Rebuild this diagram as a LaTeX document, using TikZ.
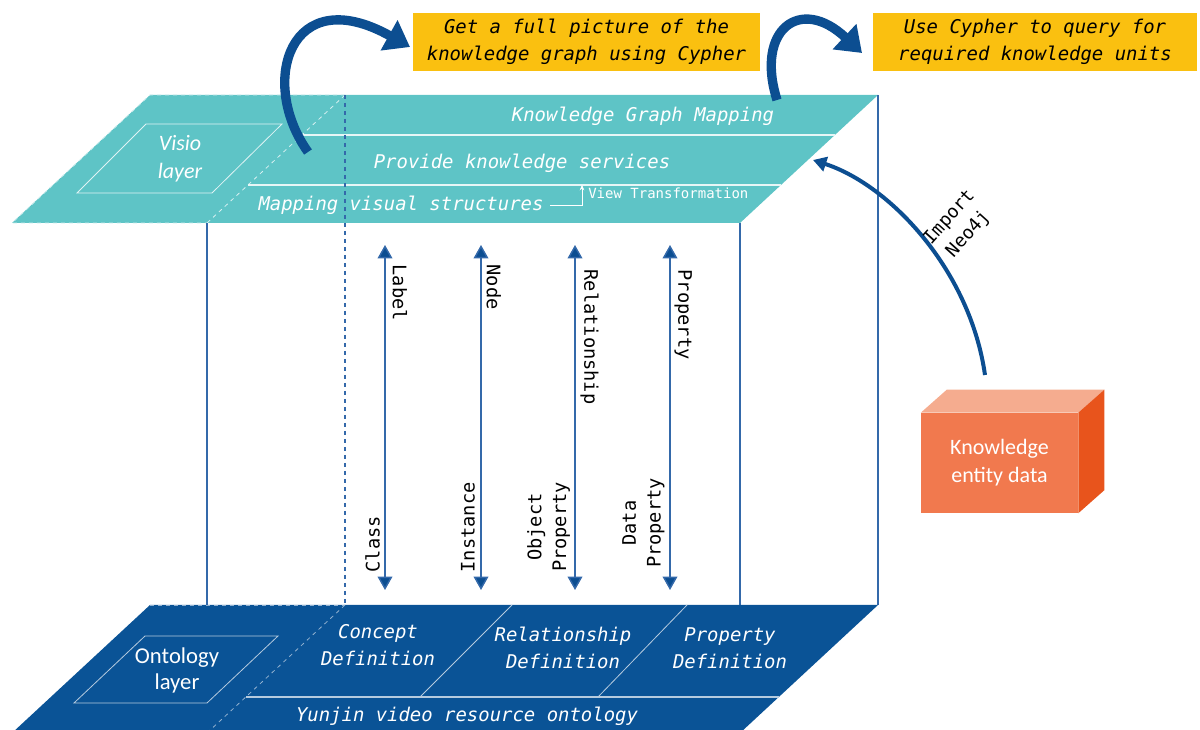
\documentclass[tikz,border=0pt]{standalone}
\usepackage{fontspec}
\setmainfont{DejaVu Sans}
\newfontfamily\mono{DejaVu Sans Mono}
\newfontfamily\calib{Carlito}
\usetikzlibrary{arrows.meta}

\definecolor{plateTeal}{RGB}{94,196,198}
\definecolor{plateBlue}{RGB}{10,83,150}
\definecolor{edgeBlue}{RGB}{52,105,170}
\definecolor{arcBlue}{RGB}{12,78,145}
\definecolor{labelGold}{RGB}{250,192,16}
\definecolor{boxFront}{RGB}{241,121,78}
\definecolor{boxTop}{RGB}{245,172,143}
\definecolor{boxSide}{RGB}{232,84,28}

\newcommand\platefont{\mono\itshape\fontsize{14.2}{20}\selectfont}
\newcommand\axisfont{\mono\fontsize{14}{18.5}\selectfont}

\tikzset{
  platetext/.style={text=white, font=\platefont, align=center, inner sep=0pt},
  layertext/.style={text=white, font=\calib\fontsize{16.5}{20}\selectfont, align=center, inner sep=0pt},
  goldbox/.style={fill=labelGold, text=black, font=\platefont, align=center,
                  inner sep=0pt, minimum height=43.5pt},
  thinlight/.style={line width=0.6pt},
  pillar/.style={draw=edgeBlue, line width=0.9pt},
  maparrow/.style={draw=edgeBlue, line width=1.1pt,
                   {Triangle[width=11pt,length=10pt,fill=arcBlue]}-{Triangle[width=11pt,length=10pt,fill=arcBlue]}},
  axislabel/.style={font=\axisfont, text=black, inner sep=1pt, align=center},
  bigarc/.style={draw=arcBlue, line width=7pt, -{Triangle[width=25pt,length=18pt]}},
  importarc/.style={draw=arcBlue, line width=3pt, -{Triangle[width=11pt,length=10pt]}},
}

\begin{document}
\begin{tikzpicture}[x=0.75pt,y=-0.75pt]
\useasboundingbox (0,0) rectangle (1200,730);

% ---------- upper (visualisation) plate ----------
\fill[plateTeal] (150,95) -- (878,95) -- (740,223) -- (12,223) -- cycle;
\draw[white!65!plateTeal, thinlight, dashed] (345,95) -- (150,95) -- (12,223) -- (207,223);
\draw[white!75!plateTeal, thinlight, dashed] (345,95) -- (207,223);
\draw[white!85!plateTeal, line width=0.8pt] (302,135) -- (835,135);
\draw[white!85!plateTeal, line width=0.8pt] (248,185) -- (781,185);
\draw[white!80!plateTeal, thinlight] (146,124) -- (282,124) -- (212,193) -- (77,193) -- cycle;
\node[layertext, font=\calib\itshape\fontsize{16.5}{21}\selectfont] (visio) at (180,159) {Visio\\layer};

\node[platetext] (kgm) at (643,116) {Knowledge Graph Mapping};
\node[platetext] (pks) at (522,163) {Provide knowledge services};
\node[platetext] (mapvis) at (401,205) {Mapping visual structures};
\node[text=white, font=\mono\fontsize{10.5}{12}\selectfont, inner sep=0pt, anchor=west] (vtr) at (588,193) {View Transformation};
\coordinate (vt) at (582,185);
\draw[white, line width=0.6pt, -{Stealth[length=4pt,width=3.5pt]}] ([xshift=5pt]mapvis.east) -| (vt);

% ---------- pillars between the plates ----------
\draw[pillar] (207,223) -- (207,605);
\draw[pillar] (740,223) -- (740,605);
\draw[pillar] (878,95) -- (878,605);
\draw[pillar, dashed, line width=0.8pt] (345,95) -- (345,605);

% ---------- lower (ontology) plate ----------
\fill[plateBlue] (150,605) -- (878,605) -- (740,733) -- (12,733) -- cycle;
\draw[white!55!plateBlue, thinlight, dashed] (150,605) -- (345,605);
\draw[white!55!plateBlue, thinlight, dashed] (345,605) -- (207,733);
\draw[white!70!plateBlue, line width=0.8pt] (246,697) -- (779,697);
\draw[white!70!plateBlue, thinlight] (512,605) -- (420,697);
\draw[white!70!plateBlue, thinlight] (687,605) -- (598,697);
\draw[white!70!plateBlue, thinlight] (145,636) -- (278,636) -- (207,703) -- (74,703) -- cycle;
\node[layertext, font=\calib\fontsize{17}{19.5}\selectfont] (onto) at (177,670) {Ontology\\layer};

\node[platetext] (concept) at (378,645) {Concept\\Definition};
\node[platetext] (reldef) at (563,648) {Relationship\\Definition};
\node[platetext] (propdef) at (730,648) {Property\\Definition};
\node[platetext] (yunjin) at (467,716) {Yunjin video resource ontology};

% ---------- mapping arrows ----------
\foreach \n/\x in {a/385, b/481, c/575, d/670} {
  \coordinate (\n top) at (\x,245);
  \coordinate (\n bot) at (\x,590);
  \draw[maparrow] (\n top) -- (\n bot);
}
\node[axislabel, rotate=-90, anchor=south west] (lab) at (391,263) {Label};
\node[axislabel, rotate=-90, anchor=south west] (nod) at (485,263) {Node};
\node[axislabel, rotate=-90, anchor=south west] (rel) at (579,268) {Relationship};
\node[axislabel, rotate=-90, anchor=south west] (prp) at (673,268) {Property};
\node[axislabel, rotate=90, anchor=south west] (cls) at (381.5,574) {Class};
\node[axislabel, rotate=90, anchor=south west] (ins) at (476.5,574) {Instance};
\node[axislabel, rotate=90, anchor=south] (obj) at (571.5,527) {Object\\Property};
\node[axislabel, rotate=90, anchor=south] (dat) at (666,523) {Data\\Property};

% ---------- query boxes ----------
\node[goldbox, minimum width=260pt] (full) at (586.5,42) {Get a full picture of the\\knowledge graph using Cypher};
\node[goldbox, minimum width=243pt] (query) at (1035,42) {Use Cypher to query for\\required knowledge units};

\coordinate (fs) at (308,152);
\coordinate (fe) at (410,47);
\draw[bigarc] (fs) .. controls (258,82) and (290,-20) .. (fe);
\coordinate (qs) at (777,100);
\coordinate (qe) at (862,53);
\draw[bigarc] (qs) .. controls (755,30) and (800,-5) .. (qe);

% ---------- entity data block ----------
\node[fill=boxFront, text=white, font=\calib\fontsize{16.5}{21}\selectfont, align=center,
      minimum width=117.75pt, minimum height=75pt, inner sep=0pt] (ked) at (999.5,463) {Knowledge\\entity data};
\fill[boxTop] (ked.north west) -- ([shift={(26,-23)}]ked.north west)
  -- ([shift={(26,-23)}]ked.north east) -- (ked.north east) -- cycle;
\fill[boxSide] (ked.north east) -- ([shift={(26,-23)}]ked.north east)
  -- ([shift={(26,-23)}]ked.south east) -- (ked.south east) -- cycle;

\coordinate (is) at (985,375);
\coordinate (ie) at (813,160);
\draw[importarc] (is) .. controls (970,270) and (890,185) .. (ie);
\node[font=\mono\fontsize{13.7}{19}\selectfont, align=center, rotate=48, inner sep=0pt] (imp) at (959,226) {Import\\Neo4j};

\end{tikzpicture}
\end{document}
